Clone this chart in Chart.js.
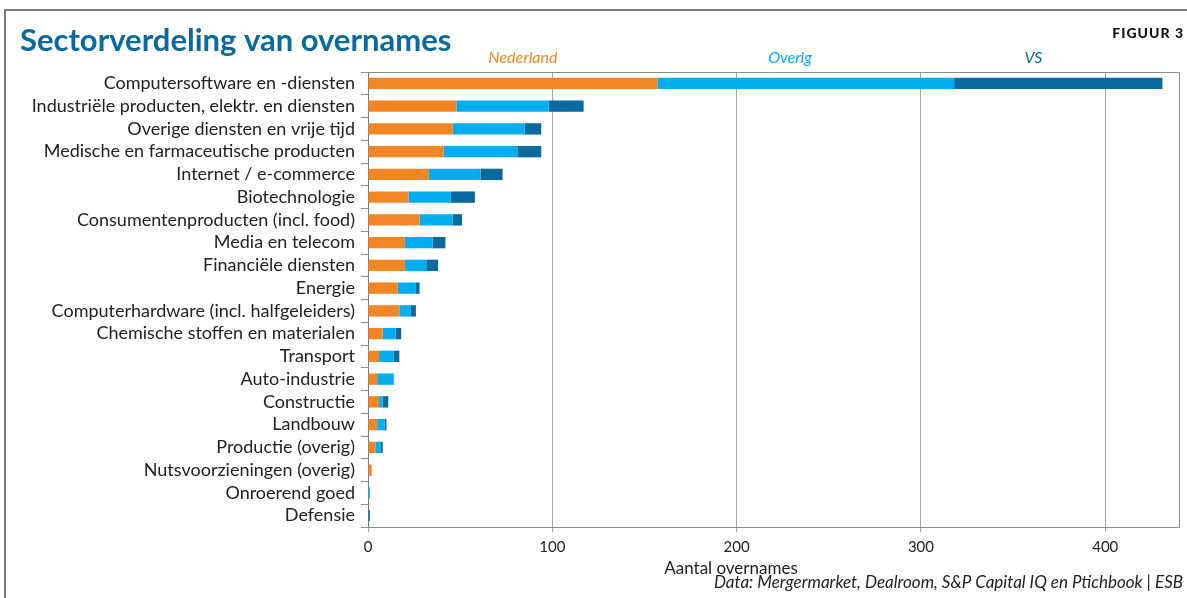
<!DOCTYPE html>
<html>
<head>
<meta charset="utf-8">
<script src="https://cdn.jsdelivr.net/npm/chart.js@4/dist/chart.umd.min.js"></script>
<style>
  html, body { margin: 0; padding: 0; background: #ffffff; }
  #wrap { position: relative; width: 1187px; height: 598px; }
  canvas { display: block; }
</style>
</head>
<body>
<div id="wrap"><canvas id="c" width="1187" height="598"></canvas></div>
<script>
// Sectoren (y-as) en aantallen overnames per herkomst van de koper
const sectors = [
  'Computersoftware en -diensten',
  'Industriële producten, elektr. en diensten',
  'Overige diensten en vrije tijd',
  'Medische en farmaceutische producten',
  'Internet / e-commerce',
  'Biotechnologie',
  'Consumentenproducten (incl. food)',
  'Media en telecom',
  'Financiële diensten',
  'Energie',
  'Computerhardware (incl. halfgeleiders)',
  'Chemische stoffen en materialen',
  'Transport',
  'Auto-industrie',
  'Constructie',
  'Landbouw',
  'Productie (overig)',
  'Nutsvoorzieningen (overig)',
  'Onroerend goed',
  'Defensie'
];
const nederland = [157, 48, 46, 41, 33, 22, 28, 20, 20, 16, 17, 8, 6, 5, 6, 5, 4, 2, 0, 0];
const overig    = [161, 50, 39, 40, 28, 23, 18, 15, 12, 10, 6, 7, 8, 9, 2, 4, 3, 0, 1, 0];
const vs        = [113, 19, 9, 13, 12, 13, 5, 7, 6, 2, 3, 3, 3, 0, 3, 1, 1, 0, 0, 1];
const xTicks    = [0, 100, 200, 300, 400];

const FONT = 'Lato, "Open Sans", sans-serif';
const C_NL = '#f28524', C_OV = '#00aeef', C_VS = '#0a6a9d';

// Kolomkoppen boven de balken, op een waarde van de x-as geplaatst
const seriesHeads = [
  { text: 'Nederland', at: 84,  color: C_NL },
  { text: 'Overig',    at: 229, color: C_OV },
  { text: 'VS',        at: 361, color: C_VS }
];

const decor = {
  id: 'decor',
  beforeDraw(chart) {
    const ctx = chart.ctx;
    ctx.save();
    ctx.fillStyle = '#ffffff';
    ctx.fillRect(0, 0, chart.width, chart.height);
    // kader van de figuur
    ctx.strokeStyle = '#7a7a7a';
    ctx.lineWidth = 2;
    ctx.beginPath();
    ctx.moveTo(5, 598);
    ctx.lineTo(5, 10);
    ctx.lineTo(1187, 10);
    ctx.stroke();
    ctx.restore();
  },
  afterDraw(chart) {
    const ctx = chart.ctx;
    const a = chart.chartArea;
    const xs = chart.scales.x;
    ctx.save();
    // rand boven en rechts van het plotvlak
    ctx.strokeStyle = '#8a8a8a';
    ctx.lineWidth = 1;
    ctx.beginPath();
    ctx.moveTo(361, a.top + 0.5);
    ctx.lineTo(a.right + 0.5, a.top + 0.5);
    ctx.lineTo(a.right + 0.5, a.bottom);
    ctx.stroke();

    // titel
    ctx.fillStyle = '#0a6a9d';
    ctx.font = 'bold 31px ' + FONT;
    ctx.textBaseline = 'alphabetic';
    ctx.textAlign = 'left';
    ctx.fillText('Sectorverdeling van overnames', 20, 51);

    ctx.fillStyle = '#111111';
    ctx.font = '900 14px ' + FONT;
    ctx.textAlign = 'right';
    ctx.letterSpacing = '1px';
    ctx.fillText('FIGUUR 3', 1184, 38);
    ctx.letterSpacing = '0px';

    // kolomkoppen
    ctx.font = 'italic 16px ' + FONT;
    ctx.textAlign = 'center';
    ctx.textBaseline = 'middle';
    seriesHeads.forEach(h => {
      ctx.fillStyle = h.color;
      ctx.fillText(h.text, xs.getPixelForValue(h.at), 58);
    });

    // as-titel en bron
    ctx.fillStyle = '#222222';
    ctx.font = '17px ' + FONT;
    ctx.fillText('Aantal overnames', 731, 569);
    ctx.font = 'italic 17px ' + FONT;
    ctx.textAlign = 'right';
    ctx.fillText('Data: Mergermarket, Dealroom, S&P Capital IQ en Ptichbook | ESB', 1183, 583);
    ctx.restore();
  }
};

new Chart(document.getElementById('c'), {
  type: 'bar',
  data: {
    labels: sectors,
    datasets: [
      { label: 'Nederland', data: nederland, backgroundColor: C_NL },
      { label: 'Overig',    data: overig,    backgroundColor: C_OV },
      { label: 'VS',        data: vs,        backgroundColor: C_VS }
    ]
  },
  options: {
    indexAxis: 'y',
    responsive: false,
    animation: false,
    devicePixelRatio: 1,
    layout: { padding: { top: 72, right: 8, left: 0, bottom: 0 } },
    datasets: { bar: { barPercentage: 0.5, categoryPercentage: 1, borderWidth: 0 } },
    plugins: { legend: { display: false }, tooltip: { enabled: false }, title: { display: false } },
    scales: {
      y: {
        stacked: true,
        afterFit(s) { s.width = 368; },
        grid: { offset: true, drawOnChartArea: false, tickLength: 7, color: '#8a8a8a', lineWidth: 1 },
        border: { color: '#7a7a7a', width: 1 },
        ticks: { color: '#222222', padding: 6, autoSkip: false, font: { family: FONT, size: 18 } }
      },
      x: {
        stacked: true,
        min: 0,
        max: 440,
        afterFit(s) { s.height = 71; },
        afterBuildTicks(s) { s.ticks = xTicks.map(v => ({ value: v })); },
        grid: { color: '#a8a8a8', lineWidth: 1, tickLength: 5 },
        border: { color: '#8a8a8a', width: 1 },
        ticks: { color: '#222222', padding: 6, font: { family: FONT, size: 15 } }
      }
    }
  },
  plugins: [decor]
});
</script>
</body>
</html>
